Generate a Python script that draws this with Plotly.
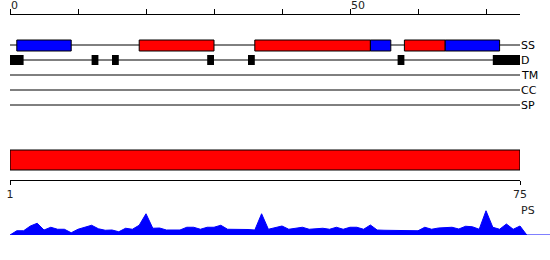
import plotly.graph_objects as go

# ---------------- data ----------------
seq_length = 75
ruler_ticks = [0, 10, 20, 30, 40, 50, 60, 70]
ruler_labels = {0: "0", 50: "50"}
track_names = ["SS", "D", "TM", "CC", "SP"]

helix_segments = [(19, 30), (36, 53), (58, 64)]      # red
strand_segments = [(1, 9), (53, 56), (64, 72)]        # blue
disorder_segments = [(0, 2), (12, 13), (15, 16), (29, 30), (35, 36), (57, 58), (71, 75)]

domain_start, domain_end = 1, 75
domain_axis_labels = ["1", "75"]

ps_values = [0.00, 0.17, 0.17, 0.36, 0.47, 0.20, 0.31, 0.23, 0.23, 0.09,
             0.23, 0.32, 0.39, 0.25, 0.19, 0.20, 0.13, 0.27, 0.23, 0.39,
             0.85, 0.27, 0.28, 0.20, 0.20, 0.20, 0.31, 0.31, 0.23, 0.31,
             0.31, 0.39, 0.23, 0.23, 0.24, 0.22, 0.20, 0.85, 0.23, 0.28,
             0.36, 0.23, 0.28, 0.31, 0.23, 0.25, 0.27, 0.23, 0.31, 0.23,
             0.31, 0.31, 0.23, 0.40, 0.20, 0.19, 0.19, 0.18, 0.18, 0.17,
             0.17, 0.31, 0.23, 0.28, 0.31, 0.31, 0.24, 0.35, 0.33, 0.23,
             0.97, 0.31, 0.23, 0.44, 0.23, 0.36]
ps_label = "PS"

# ---------------- layout constants (pixels) ----------------
W, H = 550, 260
X0, X1 = 10, 520
TOP = 15
PX = (X1 - X0) / seq_length
row_y = {"SS": 45, "D": 60, "TM": 75, "CC": 90, "SP": 105}
FONT = "DejaVu Sans"
RED, BLUE, BLACK = "#ff0000", "#0000ff", "#000000"

fig = go.Figure()
shapes = []

for name in track_names:
    y = row_y[name]
    shapes.append(dict(type="line", xref="x", yref="y", x0=0, x1=seq_length,
                       y0=y, y1=y, line=dict(color=BLACK, width=1)))

for (s, e) in helix_segments:
    shapes.append(dict(type="rect", xref="x", yref="y", x0=s, x1=e,
                       y0=row_y["SS"] - 5, y1=row_y["SS"] + 6,
                       fillcolor=RED, line=dict(color=BLACK, width=1)))
for (s, e) in strand_segments:
    shapes.append(dict(type="rect", xref="x", yref="y", x0=s, x1=e,
                       y0=row_y["SS"] - 5, y1=row_y["SS"] + 6,
                       fillcolor=BLUE, line=dict(color=BLACK, width=1)))
for (s, e) in disorder_segments:
    shapes.append(dict(type="rect", xref="x", yref="y", x0=s, x1=e,
                       y0=row_y["D"] - 5, y1=row_y["D"] + 5,
                       fillcolor=BLACK, line=dict(width=0)))

fig.add_trace(go.Scatter(x=[0, seq_length], y=[row_y["TM"], row_y["TM"]], mode="lines",
                         line=dict(color=BLACK, width=1), xaxis="x", yaxis="y",
                         hoverinfo="skip", showlegend=False))

fig.add_trace(go.Scatter(
    x=[domain_start, domain_end, domain_end, domain_start, domain_start],
    y=[150, 150, 170, 170, 150], mode="lines", fill="toself",
    fillcolor=RED, line=dict(color=BLACK, width=1.2),
    xaxis="x2", yaxis="y", hoverinfo="skip", showlegend=False))

ps_x = list(range(len(ps_values))) + [len(ps_values), 80]
ps_y = ps_values + [0, 0]
fig.add_trace(go.Scatter(x=ps_x, y=ps_y, mode="lines", fill="tozeroy",
                         fillcolor=BLUE, line=dict(color=BLUE, width=1),
                         xaxis="x3", yaxis="y2", hoverinfo="skip", showlegend=False))

annotations = []
for name in track_names:
    annotations.append(dict(x=seq_length, y=row_y[name], xref="x", yref="y",
                            text=name, showarrow=False, xanchor="left", yanchor="middle",
                            xshift=-1, font=dict(family=FONT, size=11, color=BLACK)))
for v, t in ruler_labels.items():
    annotations.append(dict(x=v, y=1 - 5.5 / H, xref="x", yref="paper", text=t,
                            showarrow=False, xanchor="left", yanchor="middle",
                            xshift=-1, font=dict(family=FONT, size=11, color="#222")))
annotations.append(dict(x=(X1 + 1) / W, y=1 - 210.5 / H, xref="paper", yref="paper",
                        text=ps_label, showarrow=False, xanchor="left", yanchor="middle",
                        xshift=-2, font=dict(family=FONT, size=11, color="#222")))

fig.update_layout(
    width=W, height=H, margin=dict(l=0, r=0, t=0, b=0, pad=0, autoexpand=False),
    paper_bgcolor="white", plot_bgcolor="white", showlegend=False,
    shapes=shapes, annotations=annotations,
    xaxis=dict(domain=[X0 / W, X1 / W], range=[0, seq_length], anchor="y",
               side="top", showline=True, linecolor=BLACK,
               linewidth=1, ticks="outside", ticklen=5, tickcolor=BLACK,
               tickvals=ruler_ticks, showticklabels=False, showgrid=False,
               zeroline=False, fixedrange=True, automargin=False),
    yaxis=dict(domain=[0, 1 - TOP / H], range=[H, TOP], visible=False, fixedrange=True),
    xaxis2=dict(domain=[X0 / W, X1 / W], range=[domain_start, domain_end],
                anchor="free", position=1 - 180 / H, side="bottom", showline=True,
                linecolor=BLACK, linewidth=1, ticks="outside", ticklen=4,
                tickcolor=BLACK, tickvals=[domain_start, domain_end],
                ticktext=domain_axis_labels, showgrid=False, zeroline=False,
                tickfont=dict(family=FONT, size=11, color="#222"), fixedrange=True,
                automargin=False),
    xaxis3=dict(domain=[X0 / W, 1], range=[0, (W - X0) / PX], anchor="y2",
                visible=False, fixedrange=True),
    yaxis2=dict(domain=[25 / H, 50 / H], range=[0, 1], anchor="x3",
                visible=False, fixedrange=True),
)

fig.write_html("out.html")
